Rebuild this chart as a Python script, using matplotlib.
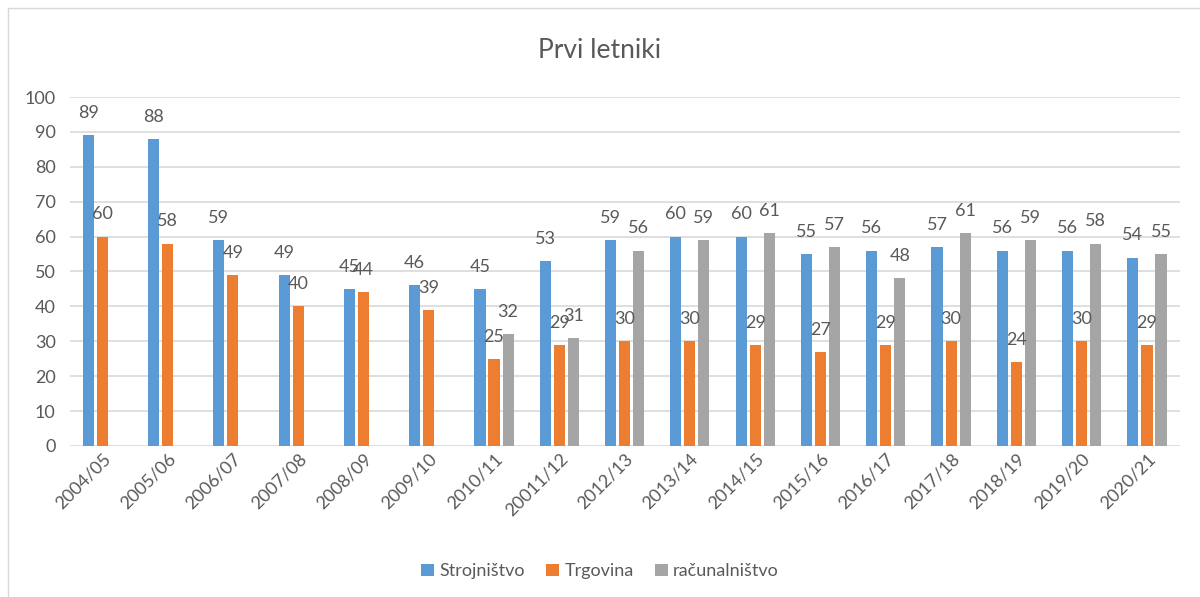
import numpy as np
import matplotlib.pyplot as plt
from matplotlib.patches import Rectangle

# DATA
years = ['2004/05', '2005/06', '2006/07', '2007/08', '2008/09', '2009/10', '2010/11',
         '20011/12', '2012/13', '2013/14', '2014/15', '2015/16', '2016/17', '2017/18',
         '2018/19', '2019/20', '2020/21']
strojnistvo = [89, 88, 59, 49, 45, 46, 45, 53, 59, 60, 60, 55, 56, 57, 56, 56, 54]
trgovina = [60, 58, 49, 40, 44, 39, 25, 29, 30, 30, 29, 27, 29, 30, 24, 30, 29]
racunalnistvo = [np.nan] * 6 + [32, 31, 56, 59, 61, 57, 48, 61, 59, 58, 55]

names = ['Strojništvo', 'Trgovina', 'računalništvo']
colors = ['#5B9BD5', '#ED7D31', '#A5A5A5']
txt = '#595959'

plt.rcParams['font.family'] = ['Lato', 'DejaVu Sans']

# PLOTTING
fig = plt.figure(figsize=(12, 5.97), dpi=100)
fig.patches.append(Rectangle((8 / 1200, -0.1), 1.2, 1.1 - 8 / 597, transform=fig.transFigure,
                             fill=False, edgecolor='#D9D9D9', linewidth=1))
ax = fig.add_axes([0.058, 0.253, 0.925, 0.5845])

x = np.arange(len(years))
w = 0.17
step = 0.215
for i, (vals, c, n) in enumerate(zip([strojnistvo, trgovina, racunalnistvo], colors, names)):
    xs = x + (i - 1) * step
    ax.bar(xs, vals, width=w, color=c, label=n, zorder=3)
    for xi, v in zip(xs, vals):
        if not np.isnan(v):
            ax.annotate(str(int(v)), (xi, v), xytext=(0, 16), textcoords='offset points',
                        ha='center', va='center', fontsize=13, color=txt, zorder=4)

ax.set_xlim(-0.5, len(years) - 0.5)
ax.set_ylim(0, 100)
ax.set_yticks(range(0, 101, 10))
ax.grid(axis='y', color='#D9D9D9', linewidth=1.2, zorder=0)
for s in ax.spines.values():
    s.set_visible(False)
ax.tick_params(length=0, labelsize=13, labelcolor=txt)
ax.tick_params(axis='y', pad=10)
ax.set_xticks(x)
ax.set_xticklabels(years, rotation=45, ha='right', rotation_mode='anchor')

fig.text(0.5, 0.915, 'Prvi letniki', ha='center', va='center', fontsize=19, color=txt)
fig.legend(loc='center', bbox_to_anchor=(0.5, 0.043), ncol=3, frameon=False, fontsize=13,
           handlelength=0.7, handleheight=0.7, handletextpad=0.3, columnspacing=1.2,
           labelcolor=txt)

plt.savefig('out.png', dpi=100)
